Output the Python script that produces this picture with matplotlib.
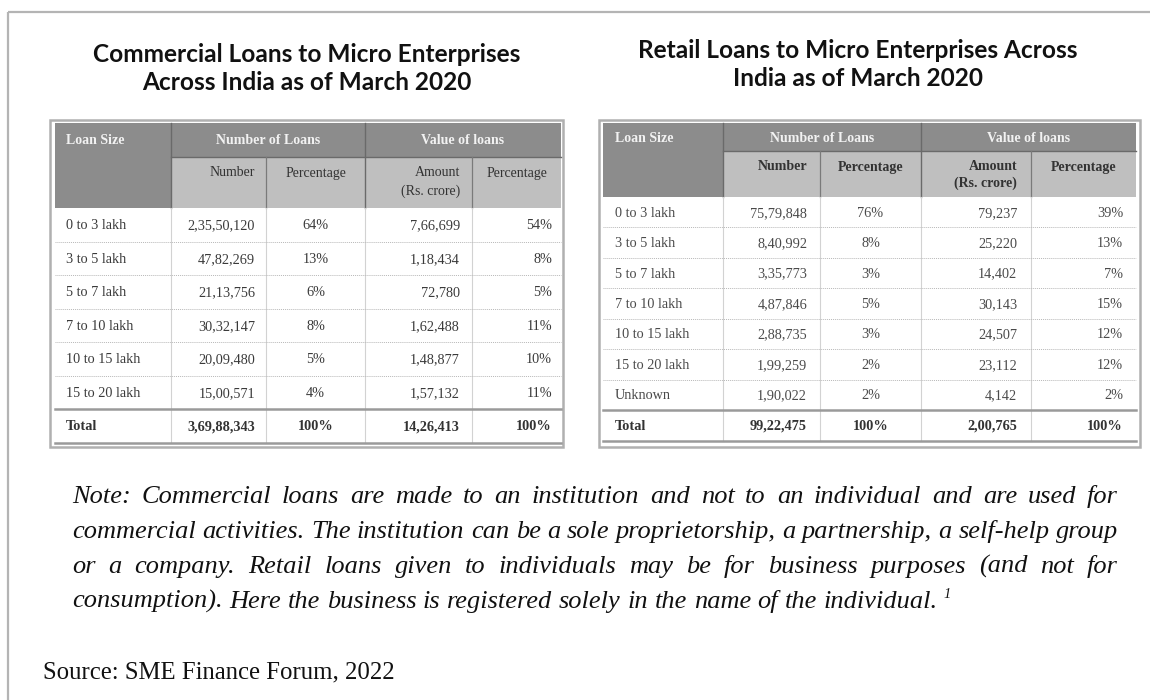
import matplotlib.pyplot as plt
from matplotlib.patches import Rectangle

# ---- data ----
com_sizes = ["0 to 3 lakh", "3 to 5 lakh", "5 to 7 lakh", "7 to 10 lakh",
             "10 to 15 lakh", "15 to 20 lakh"]
com_number = [23550120, 4782269, 2113756, 3032147, 2009480, 1500571]
com_num_pct = [64, 13, 6, 8, 5, 4]
com_amount = [766699, 118434, 72780, 162488, 148877, 157132]
com_val_pct = [54, 8, 5, 11, 10, 11]
com_total = [36988343, 100, 1426413, 100]

ret_sizes = ["0 to 3 lakh", "3 to 5 lakh", "5 to 7 lakh", "7 to 10 lakh",
             "10 to 15 lakh", "15 to 20 lakh", "Unknown"]
ret_number = [7579848, 840992, 335773, 487846, 288735, 199259, 190022]
ret_num_pct = [76, 8, 3, 5, 3, 2, 2]
ret_amount = [79237, 25220, 14402, 30143, 24507, 23112, 4142]
ret_val_pct = [39, 13, 7, 15, 12, 12, 2]
ret_total = [9922475, 100, 200765, 100]

com_title = ["Commercial Loans to Micro Enterprises", "Across India as of March 2020"]
ret_title = ["Retail Loans to Micro Enterprises Across", "India as of March 2020"]

note_lines = [
    "Note: Commercial loans are made to an institution and not to an individual and are used for",
    "commercial activities. The institution can be a sole proprietorship, a partnership, a self-help group",
    "or a company. Retail loans given to individuals may be for business purposes (and not for",
    "consumption). Here the business is registered solely in the name of the individual.",
]
source = "Source: SME Finance Forum, 2022"


def inr(n):
    # Indian digit grouping: 2,35,50,120
    s = str(n)
    if len(s) <= 3:
        return s
    head, tail = s[:-3], s[-3:]
    parts = []
    while len(head) > 2:
        parts.insert(0, head[-2:])
        head = head[:-2]
    if head:
        parts.insert(0, head)
    return ",".join(parts) + "," + tail


W, H = 1150, 700
fig = plt.figure(figsize=(11.5, 7), dpi=100)
ax = fig.add_axes([0, 0, 1, 1])
ax.set_xlim(0, W)
ax.set_ylim(H, 0)
ax.axis("off")
renderer = fig.canvas.get_renderer()

SERIF = "Liberation Serif"
DARK, LIGHT = "#8c8c8c", "#bfbfbf"

# outer frame of the figure (top and left edges)
ax.plot([8, W], [12, 12], color="#b4b4b4", lw=1.6, solid_capstyle="butt")
ax.plot([8, 8], [12, H], color="#b4b4b4", lw=1.6, solid_capstyle="butt")


def text_width(s, **kw):
    t = ax.text(0, 0, s, **kw)
    w = t.get_window_extent(renderer).width
    t.remove()
    return w


def draw_table(frame, fill, cols, hdr, sizes, number, num_pct, amount, val_pct,
               total, sub_bold, ax_pos, body_color):
    fx0, fy0, fx1, fy1 = frame
    x0, y0, x1, y1 = fill
    c_ls, c_num, c_np, c_amt = cols  # right edges of first 4 columns
    y_split, y_sub, y_tot = hdr
    nrow = len(sizes)
    rh = (y_tot - y_sub) / nrow

    ax.add_patch(Rectangle((fx0, fy0), fx1 - fx0, fy1 - fy0, fill=False,
                           ec="#b0b0b0", lw=1.8))
    # header fills
    ax.add_patch(Rectangle((x0, y0), x1 - x0, y_split - y0, fc=DARK, ec="none"))
    ax.add_patch(Rectangle((x0, y0), c_ls - x0, y_sub - y0, fc=DARK, ec="none"))
    ax.add_patch(Rectangle((c_ls, y_split), x1 - c_ls, y_sub - y_split, fc=LIGHT, ec="none"))
    # header lines
    ax.plot([c_ls, x1], [y_split, y_split], color="#6a6a6a", lw=1.0)
    for cx in (c_ls, c_np):
        ax.plot([cx, cx], [y0, y_sub], color="#6a6a6a", lw=1.0)
    for cx in (c_num, c_amt):
        ax.plot([cx, cx], [y_split, y_sub], color="#7a7a7a", lw=0.9)
    # body vertical lines
    for cx in (c_ls, c_num, c_np, c_amt):
        ax.plot([cx, cx], [y_sub, y1], color="#d2d2d2", lw=0.8)
    # dotted row separators
    for i in range(1, nrow):
        yy = y_sub + i * rh
        ax.plot([x0, x1], [yy, yy], color="#b8b8b8", lw=0.7, ls=(0, (1, 1)))
    ax.plot([x0, x1], [y_tot, y_tot], color="#9a9a9a", lw=1.8)
    ax.plot([x0, x1], [y1, y1], color="#9a9a9a", lw=1.8)

    px_ls, px_num, px_amt, px_vp = ax_pos
    hfs, fs = 10, 10.3
    hy = (y0 + y_split) / 2 + 1
    ax.text(px_ls, hy, "Loan Size", color="#f2f2f2", fontsize=hfs, fontweight="bold",
            family=SERIF, ha="left", va="center")
    ax.text((c_ls + c_np) / 2, hy, "Number of Loans", color="#f2f2f2", fontsize=hfs,
            fontweight="bold", family=SERIF, ha="center", va="center")
    ax.text((c_np + x1) / 2, hy, "Value of loans", color="#f2f2f2", fontsize=hfs,
            fontweight="bold", family=SERIF, ha="center", va="center")

    sw = "bold" if sub_bold else "normal"
    sy = y_split + 16
    sk = dict(color="#333333", fontsize=hfs, fontweight=sw, family=SERIF, va="center")
    ax.text(px_num, sy, "Number", ha="right", **sk)
    ax.text((c_num + c_np) / 2, sy, "Percentage", ha="center", **sk)
    ax.text(px_amt, sy, "Amount", ha="right", **sk)
    ax.text(px_amt, sy + 18 if not sub_bold else sy + 16, "(Rs. crore)", ha="right", **sk)
    ax.text((c_amt + x1) / 2, sy, "Percentage", ha="center", **sk)

    bk = dict(color=body_color, fontsize=fs, family=SERIF, va="center")
    for i in range(nrow):
        yy = y_sub + (i + 0.5) * rh + 1
        ax.text(px_ls, yy, sizes[i], ha="left", **bk)
        ax.text(px_num, yy, inr(number[i]), ha="right", **bk)
        ax.text((c_num + c_np) / 2, yy, f"{num_pct[i]}%", ha="center", **bk)
        ax.text(px_amt, yy, inr(amount[i]), ha="right", **bk)
        ax.text(px_vp, yy, f"{val_pct[i]}%", ha="right", **bk)
    ty = (y_tot + y1) / 2 + 1
    tk = dict(color="#333333", fontsize=fs, fontweight="bold", family=SERIF, va="center")
    ax.text(px_ls, ty, "Total", ha="left", **tk)
    ax.text(px_num, ty, inr(total[0]), ha="right", **tk)
    ax.text((c_num + c_np) / 2, ty, f"{total[1]}%", ha="center", **tk)
    ax.text(px_amt, ty, inr(total[2]), ha="right", **tk)
    ax.text(px_vp, ty, f"{total[3]}%", ha="right", **tk)


draw_table((50, 120, 563, 447), (55, 123, 561, 443), (171, 266, 365, 472),
           (157, 208, 409), com_sizes, com_number, com_num_pct, com_amount,
           com_val_pct, com_total, False, (66, 255, 460, 552), "#3a3a3a")
draw_table((599, 120, 1140, 447), (603, 123, 1136, 441), (723, 820, 921, 1031),
           (151, 197, 410), ret_sizes, ret_number, ret_num_pct, ret_amount,
           ret_val_pct, ret_total, True, (615, 807, 1017, 1123), "#4a4a4a")

# titles
TF = "Lato"
tfs = 10 * 427 / text_width(com_title[0], fontsize=10, family=TF, fontweight="bold")
for i, line in enumerate(com_title):
    ax.text(307, 55 + 28 * i, line, fontsize=tfs, family=TF, fontweight="bold",
            ha="center", va="center", color="#111111")
for i, line in enumerate(ret_title):
    ax.text(858, 50 + 28 * i, line, fontsize=tfs, family=TF, fontweight="bold",
            ha="center", va="center", color="#111111")

# justified italic note
NX0, NX1 = 72, 1118
nfs = 10 * (NX1 - NX0) / text_width(note_lines[1], fontsize=10, family=SERIF, style="italic")
baselines = [503, 538, 573, 608]
nk = dict(fontsize=nfs, family=SERIF, style="italic", color="#111111", va="baseline")
for li, line in enumerate(note_lines):
    words = line.split(" ")
    widths = [text_width(w, **nk) for w in words]
    if li < len(note_lines) - 1:
        gap = (NX1 - NX0 - sum(widths)) / (len(words) - 1)
    else:
        gap = text_width("a b", **nk) - text_width("ab", **nk)
    x = NX0
    for w, wd in zip(words, widths):
        ax.text(x, baselines[li], w, ha="left", **nk)
        x += wd + gap
    if li == len(note_lines) - 1:
        ax.text(x - gap + 6, baselines[li] - 10, "1", fontsize=nfs * 0.55, family=SERIF,
                style="italic", color="#111111", va="baseline", ha="left")

ax.text(43, 678, source, fontsize=nfs * 0.94, family=SERIF, color="#111111",
        ha="left", va="baseline")

fig.savefig("out.png", dpi=100)
